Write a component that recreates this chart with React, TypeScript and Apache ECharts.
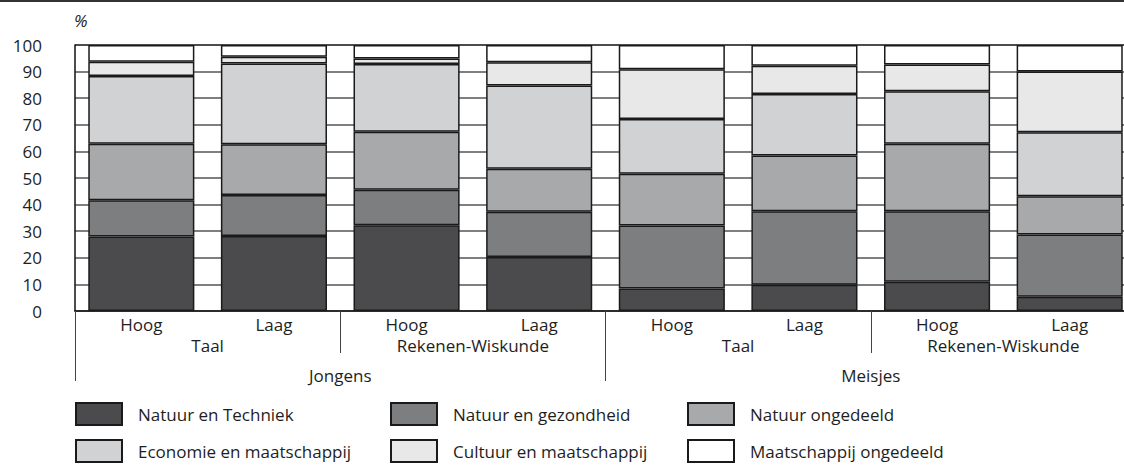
import React, { useEffect, useRef } from "react";
import * as echarts from "echarts";

const categories = ["Hoog", "Laag", "Hoog", "Laag", "Hoog", "Laag", "Hoog", "Laag"];
const subjects = ["Taal", "Rekenen-Wiskunde", "Taal", "Rekenen-Wiskunde"];
const genders = ["Jongens", "Meisjes"];

const natuurTechniek = [28.0, 28.2, 32.2, 20.3, 8.5, 9.9, 11.0, 5.4];
const natuurGezondheid = [13.6, 15.4, 13.4, 17.0, 23.6, 27.6, 26.5, 23.4];
const natuurOngedeeld = [21.3, 19.1, 21.8, 16.2, 19.5, 21.0, 25.4, 14.3];
const economieMaatschappij = [25.4, 30.3, 25.5, 31.3, 20.6, 23.1, 19.7, 24.1];
const cultuurMaatschappij = [5.4, 2.6, 2.0, 8.7, 18.7, 10.6, 10.1, 22.8];
const maatschappijOngedeeld = [6.3, 4.4, 5.1, 6.5, 9.1, 7.8, 7.3, 10.0];

const seriesNames = [
  "Natuur en Techniek",
  "Natuur en gezondheid",
  "Natuur ongedeeld",
  "Economie en maatschappij",
  "Cultuur en maatschappij",
  "Maatschappij ongedeeld",
];
const seriesData = [
  natuurTechniek,
  natuurGezondheid,
  natuurOngedeeld,
  economieMaatschappij,
  cultuurMaatschappij,
  maatschappijOngedeeld,
];
const colors = ["#4b4b4d", "#7d7e80", "#a8a9ab", "#d1d2d4", "#e8e8e8", "#ffffff"];

const FONT = "'Open Sans', 'Noto Sans', sans-serif";

export default function App() {
  const ref = useRef<HTMLDivElement>(null);
  useEffect(() => {
    if (!ref.current) return;
    const chart = echarts.init(ref.current, undefined, { renderer: "svg" });
    const textStyle = { fontFamily: FONT, fontSize: 17, color: "#1e1e1e" };
    const legendLefts = [75, 390, 687];
    const legendTops = [402, 439];
    const legends = seriesNames.map((name, i) => ({
      orient: "horizontal",
      left: legendLefts[i % 3],
      top: legendTops[Math.floor(i / 3)],
      padding: 0,
      itemWidth: 46,
      itemHeight: 22,
      icon: "rect",
      selectedMode: false,
      data: [name],
      textStyle: { ...textStyle, padding: [9, 0, 0, 11] },
    }));
    chart.setOption({
      animation: false,
      textStyle: { fontFamily: FONT },
      grid: { left: 75, top: 45, right: -12, bottom: 155, outerBoundsMode: "none", containLabel: false },
      xAxis: [
        {
          type: "category",
          data: categories,
          position: "bottom",
          axisLine: { show: true, lineStyle: { color: "#111", width: 1.5 } },
          axisTick: { show: false },
          axisLabel: { ...textStyle, margin: 5, interval: 0 },
        },
        {
          type: "category",
          data: subjects,
          position: "bottom",
          axisLine: { show: false },
          axisTick: { show: true, length: 42, lineStyle: { color: "#444", width: 1 } },
          axisLabel: { ...textStyle, margin: 26, interval: 0 },
        },
        {
          type: "category",
          data: genders,
          position: "bottom",
          axisLine: { show: false },
          axisTick: { show: true, length: 70, lineStyle: { color: "#444", width: 1 } },
          axisLabel: { ...textStyle, margin: 56, interval: 0 },
        },
      ],
      yAxis: {
        type: "value",
        min: 0,
        max: 100,
        interval: 10,
        axisLine: { show: true, lineStyle: { color: "#111", width: 1.5 } },
        axisTick: { show: false },
        axisLabel: { ...textStyle, margin: 33 },
        splitLine: {
          show: true,
          lineStyle: {
            color: ["#555", "#555", "#555", "#555", "#555", "#555", "#555", "#555", "#555", "#555", "#111"],
            width: 1.5,
          },
        },
      },
      legend: legends,
      graphic: [
        {
          type: "line",
          shape: { x1: 0, y1: 1, x2: 1124, y2: 1 },
          style: { stroke: "#333", lineWidth: 2 },
        },
        {
          type: "text",
          left: 74,
          top: 12,
          style: {
            text: "%",
            fontFamily: FONT,
            fontSize: 17,
            fontStyle: "italic",
            fill: "#222",
          },
        },
      ],
      series: seriesNames.map((name, i) => ({
        name,
        type: "bar",
        stack: "total",
        xAxisIndex: 0,
        barCategoryGap: "20%",
        data: seriesData[i],
        itemStyle: { color: colors[i], borderColor: "#1a1a1a", borderWidth: 1.5 },
        emphasis: { disabled: true },
      })),
    });
    return () => chart.dispose();
  }, []);
  return (
    <div
      ref={ref}
      style={{ position: "absolute", left: 0, top: 0, width: 1124, height: 466 }}
    />
  );
}
